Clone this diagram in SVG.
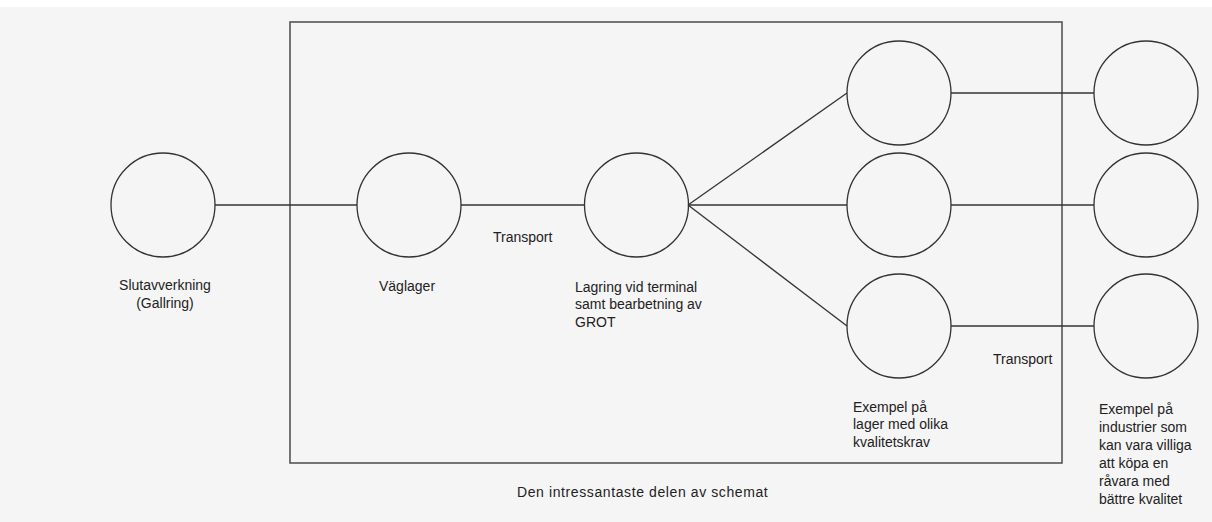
<svg xmlns="http://www.w3.org/2000/svg" width="1212" height="522" viewBox="0 0 1212 522">
<style>
.n{fill:none;stroke:#333;stroke-width:1.3}
.c line{stroke:#333;stroke-width:1.3}
text{font-family:"Liberation Sans",Arial,sans-serif;font-size:14px;fill:#222}
</style>
<rect x="0" y="0" width="1212" height="522" fill="#fff"/>
<rect x="0" y="7" width="1212" height="515" fill="#f5f5f5"/>
<g id="boundary">
<rect x="290" y="22" width="772" height="441" fill="none" stroke="#555" stroke-width="1.6"/>
<text x="517" y="497" letter-spacing="0.6">Den intressantaste delen av schemat</text>
</g>
<g class="c" id="connectors">
<line x1="215" y1="205" x2="357" y2="205"/>
<line x1="461" y1="205" x2="585" y2="205"/>
<line x1="688" y1="205" x2="847" y2="93"/>
<line x1="688" y1="205" x2="847" y2="205"/>
<line x1="688" y1="205" x2="847" y2="326"/>
<line x1="951" y1="93" x2="1094" y2="93"/>
<line x1="951" y1="205" x2="1094" y2="205"/>
<line x1="951" y1="326" x2="1094" y2="326"/>
<text x="493" y="242">Transport</text>
<text x="993" y="364">Transport</text>
</g>
<g id="slutavverkning">
<circle class="n" cx="163" cy="205" r="52"/>
<text x="165" y="290" text-anchor="middle">Slutavverkning</text>
<text x="165" y="308" text-anchor="middle">(Gallring)</text>
</g>
<g id="vaglager">
<circle class="n" cx="409" cy="205" r="52"/>
<text x="379" y="291">Väglager</text>
</g>
<g id="lagring">
<circle class="n" cx="636.5" cy="205" r="52"/>
<text x="575" y="292">Lagring vid terminal</text>
<text x="575" y="309">samt bearbetning av</text>
<text x="575" y="327">GROT</text>
</g>
<g id="lager1"><circle class="n" cx="899" cy="93" r="52"/></g>
<g id="lager2"><circle class="n" cx="899" cy="205" r="52"/></g>
<g id="lager3">
<circle class="n" cx="899" cy="326" r="52"/>
<text x="853" y="412">Exempel på</text>
<text x="853" y="429">lager med olika</text>
<text x="853" y="447">kvalitetskrav</text>
</g>
<g id="industri1"><circle class="n" cx="1146" cy="93" r="52"/></g>
<g id="industri2"><circle class="n" cx="1146" cy="205" r="52"/></g>
<g id="industri3">
<circle class="n" cx="1146" cy="326" r="52"/>
<text x="1099" y="414">Exempel på</text>
<text x="1099" y="432">industrier som</text>
<text x="1099" y="450">kan vara villiga</text>
<text x="1099" y="468">att köpa en</text>
<text x="1099" y="486">råvara med</text>
<text x="1099" y="504">bättre kvalitet</text>
</g>
</svg>
